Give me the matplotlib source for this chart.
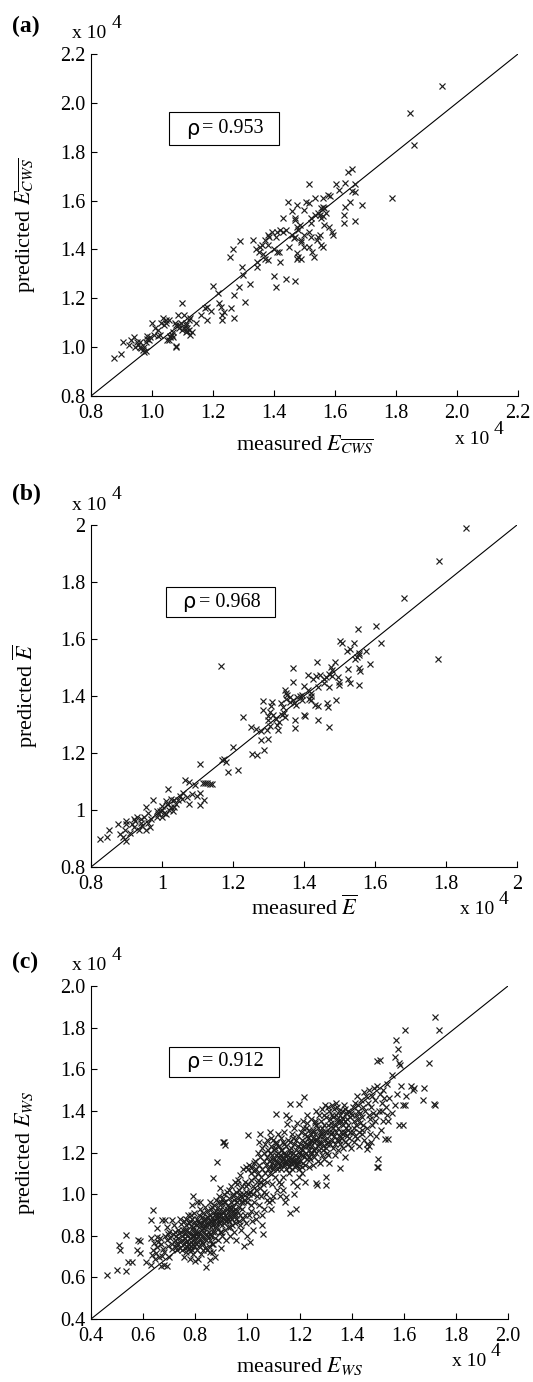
import matplotlib
matplotlib.use('Agg')
import matplotlib.pyplot as plt
from matplotlib.patches import Rectangle

plt.rcParams['font.family'] = ['Liberation Serif', 'DejaVu Serif']
plt.rcParams['mathtext.fontset'] = 'stix'

# ---------------- data (values in units of 1e4) ----------------
rho_a, rho_b, rho_c = "0.953", "0.968", "0.912"

ticks_a = [0.8, 1.0, 1.2, 1.4, 1.6, 1.8, 2.0, 2.2]
ticklabels_a = ["0.8", "1.0", "1.2", "1.4", "1.6", "1.8", "2.0", "2.2"]
ticks_b = [0.8, 1.0, 1.2, 1.4, 1.6, 1.8, 2.0]
ticklabels_b = ["0.8", "1", "1.2", "1.4", "1.6", "1.8", "2"]
ticks_c = [0.4, 0.6, 0.8, 1.0, 1.2, 1.4, 1.6, 1.8, 2.0]
ticklabels_c = ["0.4", "0.6", "0.8", "1.0", "1.2", "1.4", "1.6", "1.8", "2.0"]

pts_a = [
(1.95,2.07),(1.847,1.958),(1.86,1.826),(1.787,1.61),
(1.657,1.73),(1.642,1.715),(1.666,1.667),(1.632,1.67),(1.603,1.667),(1.614,1.642),(1.664,1.635),(1.655,1.64),
(1.688,1.58),(1.65,1.594),(1.634,1.575),(1.63,1.54),(1.63,1.51),(1.666,1.518),
(1.514,1.667),(1.577,1.621),(1.583,1.62),(1.56,1.61),(1.533,1.61),(1.504,1.595),(1.515,1.59),(1.445,1.594),
(1.477,1.583),(1.46,1.557),(1.50,1.56),(1.555,1.57),(1.56,1.575),(1.565,1.57),(1.545,1.55),(1.55,1.54),
(1.555,1.53),(1.535,1.54),(1.56,1.535),(1.57,1.55),(1.52,1.53),(1.52,1.51),(1.47,1.53),(1.43,1.53),(1.47,1.52),
(1.485,1.50),(1.475,1.49),(1.565,1.50),(1.58,1.49),(1.59,1.47),(1.595,1.46),(1.515,1.47),(1.50,1.46),(1.48,1.48),
(1.46,1.46),(1.49,1.44),(1.47,1.45),(1.465,1.445),(1.52,1.45),(1.545,1.45),(1.55,1.46),(1.54,1.44),(1.555,1.42),
(1.56,1.41),(1.50,1.41),(1.49,1.43),(1.515,1.41),(1.525,1.39),(1.53,1.37),(1.475,1.385),(1.48,1.37),(1.475,1.36),
(1.49,1.36),(1.45,1.41),(1.43,1.47),(1.44,1.48),(1.42,1.48),(1.41,1.47),(1.405,1.45),(1.38,1.46),(1.385,1.45),
(1.395,1.47),(1.37,1.44),(1.38,1.42),(1.36,1.42),(1.355,1.41),(1.34,1.40),(1.33,1.44),(1.35,1.39),(1.365,1.38),
(1.37,1.36),(1.345,1.35),(1.345,1.33),(1.38,1.355),(1.40,1.40),(1.415,1.39),(1.42,1.35),(1.41,1.39),(1.40,1.29),
(1.405,1.245),(1.44,1.28),(1.47,1.27),
(1.29,1.435),(1.265,1.40),(1.255,1.37),(1.295,1.33),(1.30,1.295),(1.32,1.26),(1.285,1.245),(1.305,1.185),
(1.27,1.215),(1.26,1.16),(1.27,1.12),(1.235,1.145),(1.23,1.13),(1.23,1.11),(1.22,1.18),(1.225,1.165),(1.215,1.22),
(1.20,1.25),(1.195,1.15),(1.18,1.165),(1.175,1.16),(1.18,1.11),(1.16,1.13),(1.145,1.10),(1.125,1.12),(1.13,1.06),
(1.12,1.07),(1.115,1.08),(1.11,1.09),(1.105,1.13),(1.10,1.18),(1.095,1.10),(1.09,1.08),(1.10,1.07),(1.105,1.08),
(1.11,1.06),(1.115,1.065),(1.085,1.13),(1.08,1.09),(1.075,1.10),(1.08,1.0),(1.078,1.003),(1.065,1.05),(1.06,1.04),
(1.055,1.03),(1.05,1.03),(1.07,1.06),(1.055,1.11),(1.045,1.11),(1.035,1.12),(1.03,1.10),(1.025,1.05),(1.02,1.07),
(1.01,1.08),(1.00,1.10),(1.005,1.05),(0.995,1.04),(0.99,1.03),(0.985,1.045),(0.975,1.00),(0.97,0.99),(0.965,0.995),
(0.96,1.00),(0.955,1.01),(0.95,1.02),(0.975,0.98),(0.98,0.985),(0.98,1.02),(0.985,1.035),(0.94,1.04),(0.93,1.03),
(0.925,1.01),(0.905,1.02),(0.90,0.97),(0.875,0.955),(0.945,1.0),(0.96,1.02),(1.02,1.045),(1.04,1.09),(1.045,1.10),
(1.06,1.045),(1.07,1.04),(1.09,1.09),(1.12,1.11),(1.125,1.05),(1.11,1.10),
]

pts_b = [
(1.856,1.988),(1.781,1.875),(1.681,1.744),(1.778,1.530),(1.165,1.505),(1.602,1.647),(1.617,1.586),(1.551,1.634),
(1.501,1.593),(1.506,1.587),(1.540,1.587),(1.520,1.557),(1.530,1.565),(1.574,1.557),(1.554,1.550),(1.550,1.538),
(1.556,1.545),(1.586,1.514),(1.554,1.500),(1.558,1.488),(1.554,1.440),(1.523,1.493),(1.523,1.459),(1.530,1.446),
(1.487,1.518),(1.475,1.503),(1.480,1.490),(1.470,1.477),(1.496,1.467),(1.500,1.437),(1.490,1.385),(1.470,1.430),
(1.465,1.376),(1.468,1.362),(1.470,1.290),(1.436,1.518),(1.440,1.432),(1.440,1.315),(1.425,1.460),(1.433,1.470),
(1.445,1.475),(1.455,1.458),(1.462,1.465),(1.410,1.475),(1.400,1.435),(1.420,1.410),(1.421,1.400),(1.430,1.370),
(1.440,1.365),(1.400,1.333),(1.402,1.331),(1.390,1.400),(1.393,1.385),(1.368,1.500),(1.370,1.450),(1.347,1.420),
(1.350,1.410),(1.353,1.403),(1.360,1.395),(1.368,1.385),(1.372,1.375),(1.378,1.370),(1.375,1.315),(1.375,1.286),
(1.340,1.362),(1.337,1.333),(1.347,1.327),(1.325,1.297),(1.328,1.280),(1.310,1.380),(1.308,1.365),(1.305,1.345),
(1.312,1.335),(1.300,1.315),(1.303,1.295),(1.297,1.280),(1.300,1.250),(1.284,1.382),(1.285,1.350),(1.279,1.278),
(1.280,1.247),(1.286,1.210),(1.265,1.285),(1.250,1.290),(1.253,1.198),(1.267,1.192),(1.227,1.325),(1.200,1.220),
(1.213,1.142),(1.187,1.133),(1.175,1.180),(1.180,1.170),(1.168,1.177),(1.107,1.163),(1.128,1.093),(1.135,1.090),
(1.115,1.095),(1.118,1.034),(1.106,1.018),(1.098,1.050),(1.084,1.055),(1.093,1.087),(1.065,1.107),(1.075,1.100),
(1.075,1.020),(1.050,1.050),(1.055,1.040),(1.045,1.035),(1.033,1.034),(1.040,1.022),(1.018,1.075),(1.010,1.030),
(1.015,1.020),(1.025,1.010),(1.030,0.995),(1.000,1.000),(1.005,0.990),(0.995,0.995),(1.000,0.975),(0.990,0.985),
(0.985,0.995),(0.975,1.036),(0.955,1.010),(0.960,0.990),(0.950,0.975),(0.940,0.970),(0.945,0.945),(0.955,0.930),
(0.935,0.930),(0.920,0.970),(0.925,0.960),(0.915,0.950),(0.922,0.940),(0.900,0.960),(0.898,0.950),(0.895,0.930),
(0.900,0.890),(0.890,0.905),(0.882,0.915),(0.875,0.952),(0.850,0.930),(0.845,0.906),(0.826,0.900),(0.910,0.920),
(0.930,0.975),(0.960,0.955),(0.970,0.970),(1.020,1.000),(1.035,1.010),(1.060,1.060),(1.070,1.045),(1.010,0.985),
(0.985,0.975),(1.000,1.015),(1.025,1.040),(0.965,0.940),(0.940,0.955),(1.108,1.060),(1.120,1.095),(1.140,1.090),
(1.350,1.390),(1.360,1.380),(1.320,1.320),(1.330,1.310),(1.300,1.330),(1.345,1.340),(1.335,1.375),(1.380,1.395),
(1.395,1.405),(1.410,1.420),(1.415,1.390),(1.420,1.385),(1.455,1.445),(1.480,1.470),(1.500,1.450),(1.545,1.530),
]

pts_c = [
(0.463,0.613),(0.498,0.637),(0.509,0.756),(0.510,0.733),(0.534,0.804),(0.534,0.629),(0.543,0.672),(0.556,0.672),
(0.575,0.733),(0.580,0.780),(0.588,0.777),(0.588,0.716),(0.611,0.675),(0.632,0.660),(0.635,0.708),(0.638,0.730),
(0.640,0.765),(0.632,0.788),(0.630,0.876),(0.638,0.924),(0.652,0.836),(0.652,0.796),(0.645,0.690),(0.648,0.715),
(0.655,0.745),(0.658,0.770),
(0.667,0.653),(0.680,0.660),(0.690,0.653),(0.671,0.876),(0.684,0.876),(0.709,0.876),(0.665,0.790),(0.670,0.760),
(0.675,0.735),(0.680,0.720),(0.685,0.800),(0.690,0.780),(0.695,0.750),(0.700,0.700),(0.700,0.820),(0.705,0.790),
(0.710,0.760),(0.712,0.735),(0.715,0.810),(0.718,0.850),(0.690,0.840),(0.672,0.705),(0.662,0.700),(0.695,0.810),
(0.722,0.780),(0.725,0.800),(0.728,0.760),(0.730,0.730),(0.732,0.830),(0.735,0.790),(0.738,0.815),(0.740,0.740),
(0.742,0.770),(0.745,0.855),(0.748,0.800),(0.750,0.780),(0.752,0.830),(0.755,0.700),(0.757,0.760),(0.758,0.870),
(0.760,0.810),(0.740,0.880),(0.725,0.745),(0.748,0.730),(0.735,0.760),(0.760,0.740),(0.722,0.820),(0.745,0.820),
(0.762,0.790),(0.764,0.850),(0.765,0.720),(0.766,0.770),(0.768,0.830),(0.770,0.800),(0.772,0.900),(0.773,0.760),
(0.775,0.740),(0.776,0.820),(0.778,0.870),(0.780,0.790),(0.781,0.690),(0.782,0.845),(0.784,0.770),(0.785,0.810),
(0.786,0.950),(0.787,0.730),(0.788,0.880),(0.789,0.800),(0.790,0.990),(0.790,0.760),(0.792,0.830),(0.793,0.710),
(0.794,0.860),(0.795,0.780),(0.796,0.910),(0.797,0.750),(0.798,0.820),(0.799,0.680),(0.765,0.880),(0.770,0.745),
(0.775,0.860),(0.780,0.725),(0.785,0.900),(0.790,0.840),(0.795,0.800),(0.770,0.775),(0.760,0.830),(0.782,0.750),
(0.801,0.790),(0.802,0.850),(0.803,0.760),(0.805,0.880),(0.806,0.820),(0.807,0.730),(0.808,0.960),(0.810,0.800),
(0.811,0.870),(0.812,0.770),(0.813,0.840),(0.815,0.900),(0.816,0.750),(0.817,0.810),(0.818,0.930),(0.820,0.780),
(0.821,0.860),(0.822,0.710),(0.824,0.830),(0.825,0.890),(0.826,0.800),(0.828,0.760),(0.829,0.850),(0.830,0.910),
(0.832,0.820),(0.833,0.870),(0.835,0.790),(0.836,0.940),(0.837,0.740),(0.838,0.850),(0.840,0.652),(0.840,0.810),
(0.810,0.690),(0.820,0.960),(0.830,0.730),(0.815,0.860),(0.825,0.770),(0.835,0.880),(0.805,0.810),(0.828,0.835),
(0.842,0.880),(0.843,0.780),(0.845,0.840),(0.846,0.920),(0.848,0.800),(0.850,0.860),(0.851,0.750),(0.852,0.900),
(0.854,0.820),(0.855,0.960),(0.856,0.685),(0.857,0.870),(0.858,0.780),(0.860,0.840),(0.861,0.930),(0.862,0.800),
(0.864,0.890),(0.865,0.760),(0.866,0.850),(0.868,0.910),(0.869,1.076),(0.870,0.820),(0.871,0.950),(0.872,0.870),
(0.874,0.790),(0.875,0.700),(0.876,0.900),(0.877,0.840),(0.878,0.970),(0.880,0.860),(0.845,0.730),(0.855,0.810),
(0.865,0.940),(0.875,0.820),(0.850,0.890),(0.860,0.870),(0.870,0.760),(0.880,0.920),(0.858,0.720),(0.868,0.720),
(0.882,0.880),(0.884,1.153),(0.885,0.840),(0.886,0.940),(0.888,0.900),(0.889,0.780),(0.890,0.990),(0.891,0.860),
(0.892,0.920),(0.894,0.820),(0.895,1.030),(0.896,0.880),(0.897,0.960),(0.898,0.740),(0.900,0.900),(0.901,0.850),
(0.902,0.940),(0.904,0.800),(0.905,1.250),(0.906,0.980),(0.907,0.880),(0.908,0.920),(0.910,1.250),(0.910,0.860),
(0.912,1.000),(0.913,0.830),(0.914,1.236),(0.915,0.900),(0.916,0.960),(0.918,0.780),(0.919,0.870),(0.920,0.930),
(0.885,0.900),(0.895,0.870),(0.905,0.910),(0.915,0.880),(0.890,0.960),(0.900,0.820),(0.910,0.960),(0.920,1.010),
(0.922,0.890),(0.924,0.950),(0.925,0.840),(0.927,0.910),(0.928,1.020),(0.930,0.870),(0.931,0.980),(0.932,0.800),
(0.934,0.930),(0.935,0.890),(0.937,0.960),(0.938,1.040),(0.940,0.850),(0.941,0.920),(0.942,0.880),(0.944,0.990),
(0.945,0.940),(0.947,0.820),(0.948,0.900),(0.950,0.970),(0.951,1.060),(0.953,0.860),(0.954,0.930),(0.955,1.010),
(0.957,0.900),(0.958,0.780),(0.959,0.960),(0.930,0.940),(0.940,0.900),(0.950,0.920),(0.925,0.880),(0.935,0.840),
(0.945,1.000),(0.955,0.880),
(0.961,0.920),(0.962,1.050),(0.964,0.980),(0.966,0.870),(0.967,1.020),(0.969,0.940),(0.970,1.090),(0.972,0.900),
(0.973,1.000),(0.975,0.960),(0.977,0.830),(0.978,1.040),(0.980,0.930),(0.982,1.120),(0.983,0.880),(0.985,1.000),
(0.986,0.750),(0.988,0.970),(0.990,1.060),(0.992,0.900),(0.993,1.130),(0.995,0.860),(0.996,1.010),(0.998,0.960),
(0.999,0.800),(0.965,1.070),(0.975,0.990),(0.985,0.960),(0.995,1.040),(0.970,0.850),
(1.003,1.284),(1.001,1.120),(1.002,0.980),(1.004,1.050),(1.006,0.900),(1.008,1.140),(1.010,0.770),(1.010,1.010),
(1.012,1.100),(1.014,0.950),(1.015,1.070),(1.017,0.870),(1.018,1.130),(1.020,1.000),(1.022,1.040),(1.023,0.830),
(1.025,1.110),(1.027,0.960),(1.028,1.080),(1.030,1.160),(1.032,1.020),(1.033,0.910),(1.035,1.120),(1.037,0.990),
(1.038,1.060),(1.040,1.200),(1.005,1.000),(1.015,0.920),(1.025,1.150),(1.035,0.880),
(1.042,1.100),(1.043,0.950),(1.045,1.140),(1.047,1.030),(1.048,1.289),(1.050,1.180),(1.052,0.990),(1.054,1.080),
(1.055,1.220),(1.057,0.850),(1.058,1.120),(1.060,0.810),(1.060,1.050),(1.062,1.160),(1.064,1.200),(1.065,0.930),
(1.067,1.100),(1.068,1.240),(1.070,1.000),(1.072,1.140),(1.074,1.180),(1.075,1.060),(1.077,0.970),(1.078,1.210),
(1.080,1.120),(1.045,1.250),(1.055,0.900),(1.065,1.010),(1.075,1.260),(1.050,1.060),
(1.082,1.160),(1.083,0.960),(1.085,1.200),(1.086,1.300),(1.088,1.100),(1.090,1.230),(1.091,0.930),(1.093,1.150),
(1.094,1.050),(1.096,1.190),(1.097,1.260),(1.099,1.120),(1.100,0.990),(1.102,1.210),(1.103,1.170),(1.105,1.080),
(1.107,1.140),(1.108,1.240),(1.110,1.383),(1.110,1.190),(1.112,1.020),(1.113,1.120),(1.115,1.160),(1.116,1.290),
(1.118,1.200),(1.120,1.060),(1.085,1.130),(1.095,1.170),(1.105,1.220),(1.115,1.150),(1.090,1.270),(1.100,1.130),
(1.110,1.250),(1.120,1.180),(1.095,0.970),
(1.122,1.150),(1.123,1.230),(1.125,0.990),(1.126,1.190),(1.128,1.270),(1.130,1.120),(1.131,1.160),(1.133,1.210),
(1.135,1.080),(1.136,1.250),(1.138,1.180),(1.140,1.140),(1.141,1.300),(1.142,1.200),(1.144,0.964),(1.145,1.160),
(1.147,0.988),(1.148,1.230),(1.150,1.380),(1.150,1.120),(1.152,1.335),(1.153,1.190),(1.155,1.260),(1.156,1.150),
(1.158,1.210),(1.160,1.365),(1.160,1.100),(1.125,1.140),(1.135,1.170),(1.145,1.190),(1.155,1.170),(1.130,1.210),
(1.140,1.240),(1.150,1.150),(1.158,1.130),(1.128,1.050),(1.138,1.020),
(1.162,1.180),(1.163,1.250),(1.165,1.435),(1.165,0.908),(1.166,1.150),(1.168,1.220),(1.170,1.120),(1.171,1.290),
(1.173,1.170),(1.174,1.200),(1.176,1.060),(1.177,1.240),(1.179,1.150),(1.180,1.320),(1.182,1.190),(1.183,1.130),
(1.185,1.260),(1.186,1.170),(1.188,0.927),(1.188,1.210),(1.190,1.340),(1.192,1.150),(1.193,1.230),(1.195,1.180),
(1.196,1.280),(1.198,1.435),(1.198,1.120),(1.200,1.200),(1.170,1.160),(1.180,1.160),(1.190,1.140),(1.165,1.200),
(1.175,1.270),(1.185,1.140),(1.195,1.160),(1.178,1.000),(1.192,1.040),(1.199,1.080),
(1.202,1.240),(1.203,1.160),(1.205,1.300),(1.206,1.190),(1.208,1.130),(1.210,1.260),(1.211,1.210),(1.213,1.350),
(1.215,1.150),(1.216,1.468),(1.217,1.230),(1.218,1.180),(1.220,1.290),(1.222,1.140),(1.223,1.250),(1.225,1.320),
(1.226,1.200),(1.228,1.170),(1.230,1.380),(1.231,1.230),(1.233,1.270),(1.235,1.130),(1.236,1.210),(1.238,1.310),
(1.240,1.250),(1.205,1.220),(1.215,1.190),(1.225,1.240),(1.235,1.180),(1.210,1.100),(1.220,1.060),(1.230,1.340),
(1.240,1.200),(1.212,1.320),(1.228,1.280),
(1.242,1.170),(1.243,1.290),(1.245,1.230),(1.246,1.360),(1.248,1.200),(1.250,1.270),(1.251,1.140),(1.253,1.310),
(1.255,1.250),(1.256,1.180),(1.258,1.340),(1.260,1.220),(1.261,1.290),(1.263,1.400),(1.265,1.055),(1.265,1.200),
(1.267,1.260),(1.268,1.044),(1.270,1.320),(1.271,1.160),(1.273,1.240),(1.275,1.380),(1.276,1.210),(1.278,1.280),
(1.280,1.150),(1.245,1.260),(1.255,1.210),(1.265,1.330),(1.275,1.250),(1.250,1.300),(1.260,1.350),(1.270,1.230),
(1.280,1.300),
(1.282,1.250),(1.283,1.350),(1.285,1.190),(1.286,1.300),(1.288,1.410),(1.290,1.230),(1.291,1.280),(1.293,1.330),
(1.295,1.170),(1.296,1.260),(1.298,1.430),(1.300,1.044),(1.300,1.080),(1.300,1.300),(1.302,1.220),(1.303,1.370),
(1.305,1.270),(1.306,1.200),(1.308,1.330),(1.310,1.420),(1.311,1.250),(1.313,1.300),(1.315,1.148),(1.316,1.360),
(1.318,1.240),(1.320,1.290),(1.285,1.320),(1.295,1.380),(1.305,1.240),(1.315,1.400),(1.290,1.210),(1.310,1.190),
(1.322,1.340),(1.323,1.260),(1.325,1.430),(1.326,1.300),(1.328,1.220),(1.330,1.370),(1.331,1.280),(1.333,1.410),
(1.335,1.240),(1.336,1.330),(1.338,1.190),(1.340,1.300),(1.341,1.440),(1.343,1.260),(1.345,1.360),(1.346,1.210),
(1.348,1.320),(1.350,1.400),(1.351,1.280),(1.353,1.340),(1.355,1.124),(1.355,1.240),(1.357,1.380),(1.358,1.300),
(1.360,1.350),(1.330,1.320),(1.340,1.380),(1.350,1.260),(1.325,1.380),(1.345,1.420),
(1.362,1.270),(1.363,1.400),(1.365,1.330),(1.366,1.220),(1.368,1.360),(1.370,1.300),(1.371,1.430),(1.373,1.250),
(1.375,1.350),(1.376,1.180),(1.378,1.320),(1.380,1.390),(1.381,1.280),(1.383,1.360),(1.385,1.240),(1.386,1.400),
(1.388,1.330),(1.390,1.270),(1.392,1.370),(1.394,1.300),(1.396,1.390),(1.398,1.220),(1.365,1.290),(1.375,1.410),
(1.385,1.310),
(1.402,1.380),(1.404,1.300),(1.406,1.420),(1.408,1.250),(1.410,1.350),(1.412,1.440),(1.414,1.280),(1.416,1.380),
(1.418,1.330),(1.420,1.470),(1.422,1.270),(1.424,1.360),(1.426,1.400),(1.428,1.300),(1.430,1.230),(1.432,1.390),
(1.434,1.340),(1.436,1.450),(1.438,1.290),(1.440,1.370),(1.442,1.420),(1.444,1.330),(1.446,1.490),(1.448,1.260),
(1.410,1.320),(1.425,1.430),(1.440,1.310),
(1.452,1.400),(1.455,1.470),(1.458,1.320),(1.460,1.240),(1.462,1.440),(1.465,1.380),(1.468,1.500),(1.470,1.290),
(1.472,1.360),(1.475,1.420),(1.478,1.470),(1.480,1.330),(1.482,1.390),(1.485,1.510),(1.488,1.350),(1.490,1.450),
(1.492,1.280),(1.495,1.380),(1.498,1.520),(1.465,1.230),(1.475,1.250),(1.460,1.215),
(1.497,1.640),(1.507,1.645),(1.502,1.170),(1.502,1.130),(1.498,1.130),(1.505,1.400),(1.510,1.480),(1.513,1.310),
(1.515,1.440),(1.520,1.350),(1.522,1.500),(1.528,1.265),(1.530,1.420),(1.535,1.380),(1.536,1.530),(1.540,1.265),
(1.540,1.350),(1.545,1.460),(1.553,1.570),(1.556,1.390),(1.525,1.460),(1.518,1.400),
(1.567,1.660),(1.570,1.740),(1.577,1.695),(1.580,1.630),(1.585,1.620),(1.580,1.330),(1.597,1.330),(1.596,1.430),
(1.605,1.430),(1.610,1.470),(1.605,1.787),(1.627,1.520),(1.636,1.500),(1.640,1.510),(1.674,1.450),(1.678,1.510),
(1.697,1.630),(1.715,1.435),(1.720,1.430),(1.719,1.850),(1.735,1.790),(1.565,1.430),(1.575,1.480),(1.590,1.520),
]

meas_a, pred_a = zip(*pts_a)
meas_b, pred_b = zip(*pts_b)
meas_c, pred_c = zip(*pts_c)

# ---------------- layout ----------------
W, H = 533, 1382
fig = plt.figure(figsize=(W / 100, H / 100), dpi=100)


def rect(l, t, r, b):
    return [l / W, 1 - b / H, (r - l) / W, (b - t) / H]


def fx(x):
    return x / W


def fy(y):
    return 1 - y / H


panels = [
    dict(rect=rect(91, 54, 518, 396), mx=meas_a, py=pred_a, lim=(0.8, 2.2), ticks=ticks_a, tl=ticklabels_a,
         ylab=r'predicted $E_{\overline{CWS}}$', xlab=r'measured $E_{\overline{CWS}}$', rho=rho_a,
         box=(0.183, 0.734, 0.258, 0.096), letter='(a)', letter_y=26, top=54, bottom=396, bx=455,
         xlab_y=-0.143, ylab_x=-0.155),
    dict(rect=rect(91, 525, 517, 867), mx=meas_b, py=pred_b, lim=(0.8, 2.0), ticks=ticks_b, tl=ticklabels_b,
         ylab=r'predicted $\overline{E}$', xlab=r'measured $\overline{E}$', rho=rho_b,
         box=(0.175, 0.730, 0.258, 0.088), letter='(b)', letter_y=494, top=525, bottom=867, bx=460,
         xlab_y=-0.118, ylab_x=-0.155),
    dict(rect=rect(91, 986, 508, 1319), mx=meas_c, py=pred_c, lim=(0.4, 2.0), ticks=ticks_c, tl=ticklabels_c,
         ylab=r'predicted $E_{WS}$', xlab=r'measured $E_{WS}$', rho=rho_c,
         box=(0.188, 0.728, 0.262, 0.088), letter='(c)', letter_y=962, top=986, bottom=1319, bx=452,
         xlab_y=-0.14, ylab_x=-0.158),
]

for p in panels:
    ax = fig.add_axes(p['rect'])
    lo, hi = p['lim']
    ax.plot([lo, hi], [lo, hi], color='black', lw=0.8, zorder=2)
    ax.plot(p['mx'], p['py'], linestyle='none', marker='x', markersize=4.4, mew=0.85,
            color='#1e1e1e', zorder=3)
    ax.set_xlim(lo, hi)
    ax.set_ylim(lo, hi)
    ax.set_xticks(p['ticks'])
    ax.set_xticklabels(p['tl'])
    ax.set_yticks(p['ticks'])
    ax.set_yticklabels(p['tl'])
    for s in ['top', 'right']:
        ax.spines[s].set_visible(False)
    for s in ['left', 'bottom']:
        ax.spines[s].set_linewidth(0.8)
    ax.tick_params(direction='in', length=4, width=0.8, labelsize=14.5, top=False, right=False)
    ax.tick_params(axis='x', pad=6)
    ax.tick_params(axis='y', pad=4)

    ax.text(0.5, p['xlab_y'], p['xlab'], transform=ax.transAxes, ha='center', va='center', fontsize=16)
    ax.text(p['ylab_x'], 0.5, p['ylab'], transform=ax.transAxes, ha='center', va='center',
            rotation=90, fontsize=16)

    bx0, by0, bw, bh = p['box']
    ax.add_patch(Rectangle((bx0, by0), bw, bh, transform=ax.transAxes, fill=True,
                           facecolor='white', edgecolor='black', lw=0.8, zorder=4))
    cy = by0 + bh / 2
    ax.text(bx0 + 0.055, cy, 'ρ', transform=ax.transAxes, ha='center', va='center',
            fontsize=15, family=['DejaVu Sans'], zorder=5)
    ax.text(bx0 + 0.078, cy, '= ' + p['rho'], transform=ax.transAxes, ha='left', va='center',
            fontsize=14.5, zorder=5)

    # panel letter
    fig.text(fx(12), fy(p['letter_y']), p['letter'], ha='left', va='center', fontsize=17,
             fontweight='bold')
    # multiplier labels
    fig.text(fx(72), fy(p['top'] - 20), 'x 10', ha='left', va='center', fontsize=14)
    fig.text(fx(112), fy(p['top'] - 31), '4', ha='left', va='center', fontsize=14)
    fig.text(fx(p['bx']), fy(p['bottom'] + 43), 'x 10', ha='left', va='center', fontsize=14)
    fig.text(fx(p['bx'] + 39), fy(p['bottom'] + 33), '4', ha='left', va='center', fontsize=14)

fig.savefig('out.png', dpi=100)
